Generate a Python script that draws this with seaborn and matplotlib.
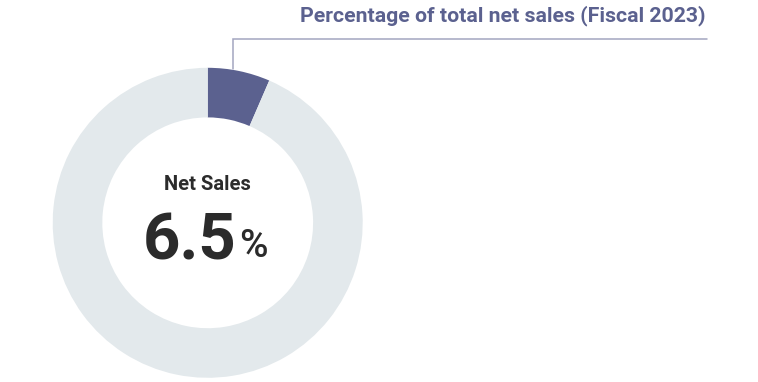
import seaborn as sns
import matplotlib.pyplot as plt

# data
labels = ["Net Sales", "Other"]
shares = [6.5, 93.5]
title = "Percentage of total net sales (Fiscal 2023)"

sns.set_theme(style="white")
plt.rcParams['font.family'] = ['Roboto', 'DejaVu Sans']

colors = ["#5b618f", "#e3e9ec"]

W, H = 758, 382
fig = plt.figure(figsize=(W / 100, H / 100), dpi=100)

# donut, centre ~ (207.7, 222.8) px, radius 155 px
cx, cy, r = 207.7, 222.8, 155
ax = fig.add_axes([(cx - r) / W, (H - cy - r) / H, 2 * r / W, 2 * r / H])
ax.pie(shares, colors=colors, startangle=90, counterclock=False,
       wedgeprops=dict(width=0.32, linewidth=0), radius=1)
ax.set_xlim(-1, 1)
ax.set_ylim(-1, 1)
ax.axis("off")

# overlay in pixel coords for texts and leader line
ov = fig.add_axes([0, 0, 1, 1], zorder=5)
ov.set_xlim(0, W)
ov.set_ylim(H, 0)
ov.axis("off")
ov.patch.set_alpha(0)

ov.plot([232.5, 232.5, 707], [69, 39, 39], color="#a3a6c0", lw=1.1,
        solid_joinstyle="miter")
ov.text(705, 16, title, ha="right", va="center", fontsize=15.3,
        fontweight="bold", color="#5b618f")

ov.text(207, 185, labels[0], ha="center", va="center", fontsize=14.5,
        fontweight="bold", color="#2b2b2b")
ov.text(237, 260, f"{shares[0]}", ha="right", va="baseline", fontsize=47,
        fontweight="bold", color="#2b2b2b")
ov.text(239, 257, "%", ha="left", va="baseline", fontsize=28,
        fontweight="medium", color="#2b2b2b")

fig.savefig("out.png", dpi=100)
